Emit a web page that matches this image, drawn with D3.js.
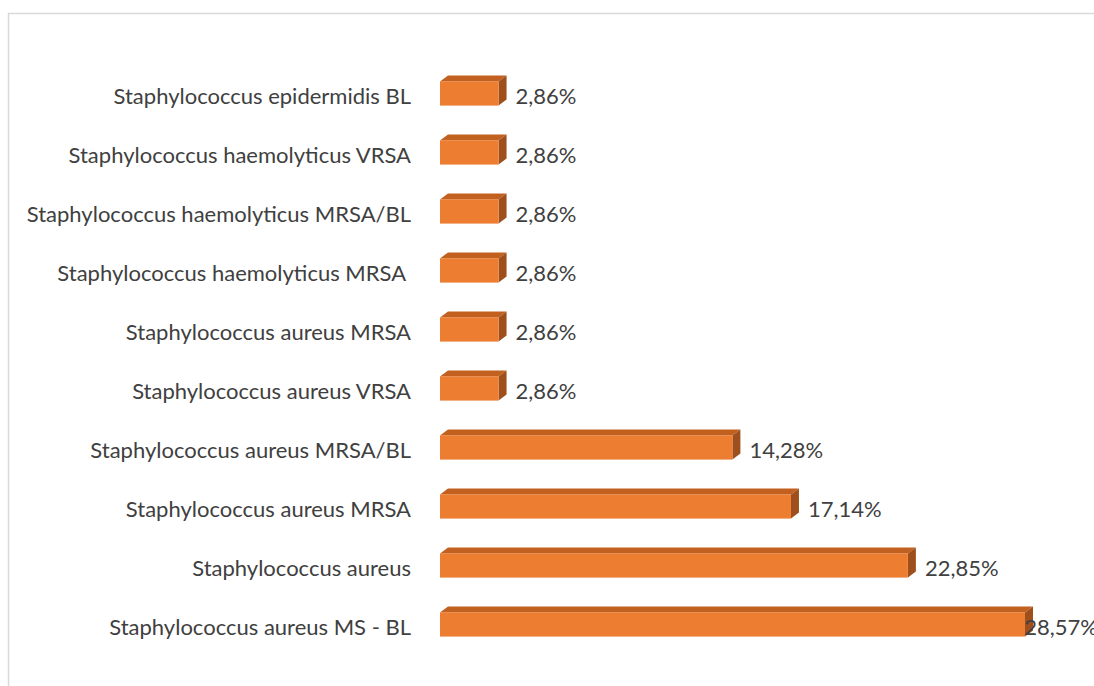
<!DOCTYPE html>
<html>
<head>
<meta charset="utf-8">
<script src="https://cdn.jsdelivr.net/npm/d3@7"></script>
<style>
body{margin:0;background:#fff;}
text{font-family:Lato,"Open Sans",sans-serif;fill:#404040;}
</style>
</head>
<body>
<script>
var width=1094, height=686;

// top to bottom as shown
var categories=["Staphylococcus epidermidis BL","Staphylococcus haemolyticus VRSA","Staphylococcus haemolyticus MRSA/BL","Staphylococcus haemolyticus MRSA ","Staphylococcus aureus MRSA","Staphylococcus aureus VRSA","Staphylococcus aureus MRSA/BL","Staphylococcus aureus MRSA","Staphylococcus aureus","Staphylococcus aureus MS - BL"];
var values=[2.86,2.86,2.86,2.86,2.86,2.86,14.28,17.14,22.85,28.57];
var valueLabels=["2,86%","2,86%","2,86%","2,86%","2,86%","2,86%","14,28%","17,14%","22,85%","28,57%"];

var depthX=8, depthY=6;

var svg=d3.select("body").append("svg").attr("width",width).attr("height",height);

// chart frame (cropped)
svg.append("rect").attr("x",8.5).attr("y",13.5).attr("width",1200).attr("height",800)
	.attr("fill","none").attr("stroke","#d9d9d9").attr("stroke-width",1.5);

var x=d3.scaleLinear().domain([0,28.57]).range([440,1025]);
// index based, two categories share a name
var y=d3.scaleBand().domain(d3.range(categories.length)).range([64,654]).paddingInner(0.59).paddingOuter(0.295);

var rows=svg.selectAll(".row").data(categories).enter().append("g").attr("class","row");

// top face
rows.append("path").attr("fill","#c1601f").attr("d",function(d,i) {
	var x0=x(0), x1=x(values[i]), y0=y(i);
	return "M"+x0+","+y0+"L"+(x0+depthX)+","+(y0-depthY)+"L"+(x1+depthX)+","+(y0-depthY)+"L"+x1+","+y0+"Z";
});
// side face
rows.append("path").attr("fill","#9e4f1b").attr("d",function(d,i) {
	var x1=x(values[i]), y0=y(i), y1=y(i)+y.bandwidth();
	return "M"+x1+","+y0+"L"+(x1+depthX)+","+(y0-depthY)+"L"+(x1+depthX)+","+(y1-depthY)+"L"+x1+","+y1+"Z";
});
// front face
rows.append("rect").attr("fill","#ed7d31")
	.attr("x",x(0)).attr("y",function(d,i) {return y(i);})
	.attr("width",function(d,i) {return x(values[i])-x(0);})
	.attr("height",y.bandwidth());

// category labels
rows.append("text").attr("x",411).attr("y",function(d,i) {return y(i)+y.bandwidth()/2;})
	.attr("dy","0.47em").attr("text-anchor","end").style("font-size","22px")
	.style("white-space","pre").text(function(d) {return d;});

// value labels
rows.append("text").attr("class","val").attr("y",function(d,i) {return y(i)+y.bandwidth()/2;})
	.attr("dy","0.47em").style("font-size","22px")
	.text(function(d,i) {return valueLabels[i];})
	.attr("x",function(d,i) {
		var w=this.getComputedTextLength();
		return Math.min(x(values[i])+depthX+9, width-w+4);
	});
</script>
</body>
</html>
